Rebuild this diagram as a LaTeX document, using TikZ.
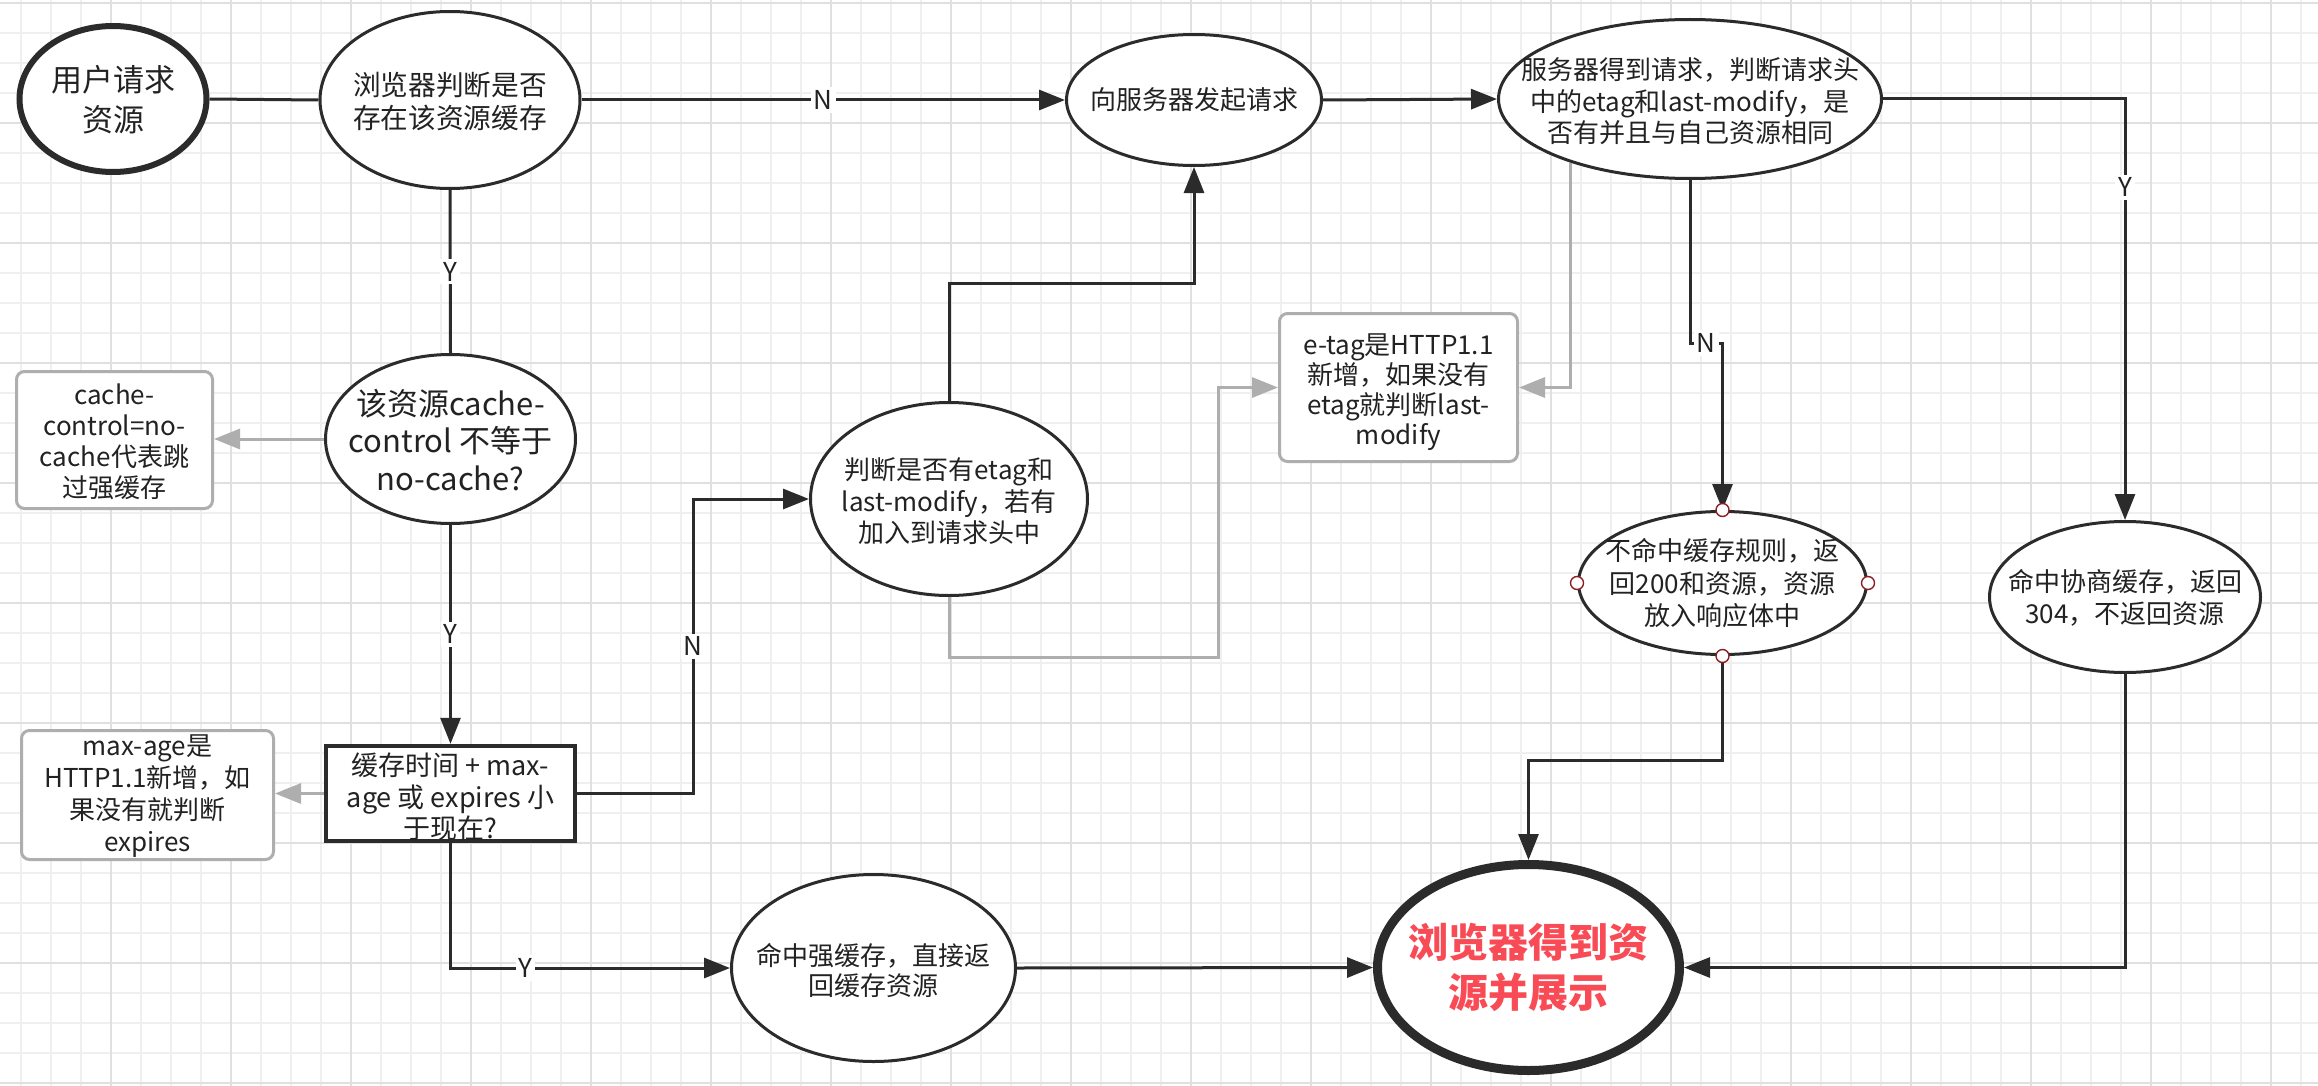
\documentclass[tikz,border=0pt]{standalone}
\usepackage{fontspec}
\setmainfont{Noto Sans CJK SC}
\usetikzlibrary{shapes.geometric,arrows.meta,calc}

\definecolor{ink}{HTML}{2B2B2B}
\definecolor{txt}{HTML}{222222}
\definecolor{note}{HTML}{AEAEAE}
\definecolor{gridminor}{HTML}{EFEFEF}
\definecolor{gridmajor}{HTML}{E0E0E0}
\definecolor{hot}{HTML}{F94B55}
\definecolor{handlered}{HTML}{8B1E24}

\tikzset{
  ell/.style={ellipse, draw=ink, line width=1.5pt, fill=white, inner sep=0pt},
  lbl/.style={align=center, text=txt, inner sep=0pt},
  fs/.style 2 args={font=\fontsize{#1}{#2}\selectfont},
  notebox/.style={rectangle, rounded corners=4pt, draw=note, line width=1.5pt, fill=white, inner sep=0pt},
  tip/.style={-{Triangle[length=13pt,width=10pt]}},
  link/.style={draw=ink, line width=1.5pt},
  flow/.style={link, tip},
  hint/.style={draw=note, line width=1.5pt, tip},
  yn/.style={fill=white, text=txt, inner sep=1.5pt, font=\fontsize{13pt}{15pt}\selectfont},
  handlept/.style={circle, draw=handlered, line width=0.7pt, fill=white, minimum size=6.5pt, inner sep=0pt},
}

\begin{document}
\begin{tikzpicture}[x=0.5pt, y=-0.5pt]
  % canvas and grid
  \fill[white] (0,0) rectangle (2318,1086);
  \useasboundingbox (0,0) rectangle (2318,1086);
  \foreach \k in {0,...,76}
    \draw[gridminor, line width=1pt] ({21+30*\k},0) -- ({21+30*\k},1086);
  \foreach \k in {0,...,36}
    \draw[gridminor, line width=1pt] (0,{2.7+30*\k}) -- (2318,{2.7+30*\k});
  \foreach \k in {0,...,18}
    \draw[gridmajor, line width=1pt] ({111+120*\k},0) -- ({111+120*\k},1086);
  \foreach \k in {0,...,9}
    \draw[gridmajor, line width=1pt] (0,{2.7+120*\k}) -- (2318,{2.7+120*\k});

  % shapes
  \node[ell, line width=3pt, minimum width=93.5pt, minimum height=73pt] (A) at (113,99) {};
  \node[ell, minimum width=130pt, minimum height=88.5pt] (B) at (450,100) {};
  \node[ell, minimum width=127.5pt, minimum height=65.5pt] (C) at (1194,100) {};
  \node[ell, minimum width=191.5pt, minimum height=79.5pt] (D) at (1690,99) {};
  \node[ell, minimum width=125pt, minimum height=84.5pt] (E) at (450.5,439) {};
  \node[notebox, minimum width=98pt, minimum height=68.5pt] (cache) at (114.5,440) {};
  \node[rectangle, draw=ink, line width=2.2pt, fill=white, inner sep=0pt,
        minimum width=124.5pt, minimum height=47.5pt] (F) at (450.5,793.5) {};
  \node[notebox, minimum width=126pt, minimum height=64.5pt] (maxage) at (147.5,795) {};
  \node[ell, minimum width=138.5pt, minimum height=96.5pt] (G) at (949,499) {};
  \node[notebox, minimum width=119pt, minimum height=74pt] (etag) at (1398.5,387.5) {};
  \node[ell, minimum width=142pt, minimum height=93.5pt] (H) at (873.5,968) {};
  \node[ell, line width=4.5pt, minimum width=151pt, minimum height=103pt] (I) at (1528.5,967.5) {};
  \node[ell, minimum width=144pt, minimum height=71.5pt] (J) at (1722.5,583) {};
  \node[ell, minimum width=135.5pt, minimum height=75.5pt] (K) at (2125,597) {};

  % texts
  \node[lbl, fs={15.5pt}{20pt}] (A-t) at (113,100) {用户请求\\资源};
  \node[lbl, fs={13.85pt}{16.5pt}] (B-t) at (450,101.5) {浏览器判断是否\\存在该资源缓存};
  \node[lbl, fs={13pt}{15.5pt}] (C-t) at (1194,100) {向服务器发起请求};
  \node[lbl, fs={13pt}{15.75pt}] (D-t) at (1690,101.5) {服务器得到请求，判断请求头\\中的etag和last-modify，是\\否有并且与自己资源相同};
  \node[lbl, fs={15.5pt}{18.75pt}] (E-t) at (450.5,440) {该资源cache-\\control 不等于\\no-cache?};
  \node[lbl, fs={13pt}{15.5pt}] (cache-t) at (114.5,442) {cache-\\control=no-\\cache代表跳\\过强缓存};
  \node[lbl, fs={13.5pt}{15.75pt}] (F-t) at (450.5,797) {缓存时间 + max-\\age 或 expires 小\\于现在?};
  \node[lbl, fs={13pt}{16pt}] (maxage-t) at (147.5,796) {max-age是\\HTTP1.1新增，如\\果没有就判断\\expires};
  \node[lbl, fs={13pt}{15.75pt}] (G-t) at (949,501.5) {判断是否有etag和\\last-modify，若有\\加入到请求头中};
  \node[lbl, fs={13pt}{15pt}] (etag-t) at (1398.5,392) {e-tag是HTTP1.1\\新增，如果没有\\etag就判断last-\\modify};
  \node[lbl, fs={13pt}{15pt}] (H-t) at (873.5,970) {命中强缓存，直接返\\回缓存资源};
  \node[lbl, text=hot, font={\fontsize{20pt}{25pt}\selectfont\bfseries}] (I-t) at (1528.5,967) {浏览器得到资\\源并展示};
  \node[lbl, fs={13pt}{16.25pt}] (J-t) at (1722.5,583.5) {不命中缓存规则，返\\回200和资源，资源\\放入响应体中};
  \node[lbl, fs={13pt}{16pt}] (K-t) at (2125,598) {命中协商缓存，返回\\304，不返回资源};

  % bend points
  \coordinate (dj1) at (1690,343);
  \coordinate (dj2) at (1722.5,343);
  \coordinate (fg) at (693,793.5);
  \coordinate (gc) at (949,283);
  \coordinate (ge) at (1218,657);
  \coordinate (ji) at (1722.5,760);

  % connectors
  \draw[link] (A.east) -- (B.west);
  \draw[flow] (B.east) -- node[yn] {N} (C.west);
  \draw[flow] (C.east) -- (D.west);
  \draw[flow] (D.east) -| node[yn, pos=0.605] {Y} (K.north);
  \draw[flow] (D.south) -- (dj1) -- node[yn] {N} (dj2) -- (J.north);
  \draw[hint] (D.208) |- (etag.east);
  \draw[link] (B.south) -- node[yn] {Y} (E.north);
  \draw[hint] (E.west) -- (E.west -| cache.east);
  \draw[flow] (E.south) -- node[yn] {Y} (F.north);
  \draw[hint] (F.west) -- (F.west -| maxage.east);
  \draw[flow] (F.east) -- (fg) |- node[yn, pos=0.25] {N} (G.west);
  \draw[flow] (G.north) -- (gc) -| (C.south);
  \draw[hint] (G.south) |- (ge) |- (etag.west);
  \draw[flow] (F.south) |- node[yn, pos=0.634] {Y} (H.west);
  \draw[flow] (H.east) -- (I.west);
  \draw[flow] (J.south) -- (ji) -| (I.north);
  \draw[flow] (K.south) |- (I.east);

  % connection handles on the selected ellipse
  \foreach \a/\n in {north/n, south/s, east/e, west/w}
    \node[handlept] (J-\n) at (J.\a) {};
\end{tikzpicture}
\end{document}
